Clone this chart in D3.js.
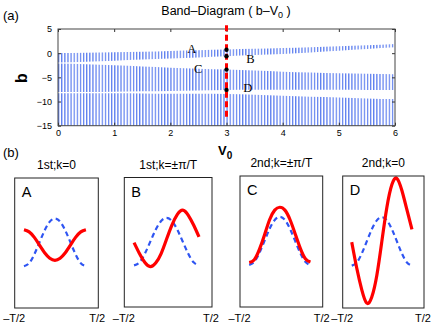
<!DOCTYPE html>
<html>
<head>
<meta charset="utf-8">
<script src="https://cdn.jsdelivr.net/npm/d3@7"></script>
<style>
  body { margin: 0; background: #fff; }
  svg { display: block; font-family: "Liberation Sans", Arial, sans-serif; }
</style>
</head>
<body>
<div id="vis"></div>
<script>
const vGrid = [0, 0.5, 1, 1.5, 2, 2.5, 3, 3.5, 4, 4.5, 5, 5.5, 6];
const band1Top = [0.05, 0.1, 0.2, 0.3, 0.45, 0.6, 0.75, 0.9, 1.05, 1.25, 1.45, 1.65, 1.9];
const band1Bot = [-1.95, -1.75, -1.55, -1.3, -1.1, -0.9, -0.65, -0.4, -0.15, 0.15, 0.5, 0.85, 1.2];
const band2Top = [-2.15, -2.3, -2.5, -2.75, -3.0, -3.2, -3.4, -3.6, -3.85, -4.0, -4.15, -4.25, -4.35];
const band2Bot = [-8.05, -8.05, -8.0, -7.9, -7.8, -7.7, -7.6, -7.55, -7.55, -7.55, -7.55, -7.6, -7.6];
const band3Top = [-8.3, -8.3, -8.3, -8.35, -8.4, -8.4, -8.45, -8.6, -8.8, -9.0, -9.15, -9.35, -9.5];
const band3Bot = [-15, -15, -15, -15, -15, -15, -15, -15, -15, -15, -15, -15, -15];

const markV = 3;
const markRange = [-13.4, 5.8];
const markB = [0.7, -0.65, -3.4, -7.6];
const markLabels = [
  {text: "A", v: 2.3, b: 0.05},
  {text: "B", v: 3.35, b: -2.0},
  {text: "C", v: 2.42, b: -4.05},
  {text: "D", v: 3.3, b: -8.1}
];
const xTicks = [0, 1, 2, 3, 4, 5, 6];
const yTicks = [5, 0, -5, -10, -15];

// mode profiles of panel (b), over one period -T/2..T/2
const tGrid = [-0.5, -0.417, -0.333, -0.25, -0.167, -0.083, 0, 0.083, 0.167, 0.25, 0.333, 0.417, 0.5];
const potential = [-1, -0.87, -0.5, 0, 0.5, 0.87, 1, 0.87, 0.5, 0, -0.5, -0.87, -1];
const modeA = [0.53, 0.44, 0.21, -0.11, -0.43, -0.66, -0.75, -0.66, -0.43, -0.11, 0.21, 0.44, 0.53];
const modeB = [-0.04, -0.5, -0.88, -1.05, -0.9, -0.5, 0.1, 0.7, 1.15, 1.33, 1.12, 0.7, 0.2];
const modeC = [-0.9, -0.78, -0.35, 0.25, 0.88, 1.28, 1.4, 1.28, 0.88, 0.3, -0.3, -0.74, -0.88];
const modeD = [-0.03, -1.1, -2.0, -2.55, -2.3, -1.4, 0.0, 1.4, 2.35, 2.6, 2.1, 1.3, 0.5];
const panelTitles = ["1st;k=0", "1st;k=\u00b1\u03c0/T", "2nd;k=\u00b1\u03c0/T", "2nd;k=0"];
const panelLetters = ["A", "B", "C", "D"];
const panelModes = [modeA, modeB, modeC, modeD];
const panelTickLabels = ["\u2013T/2", "T/2"];

const svg = d3.select("#vis").append("svg")
  .attr("width", 436).attr("height", 328);

// ---------- panel (a) ----------
const x = d3.scaleLinear().domain([0, 6]).range([58, 395]);
const y = d3.scaleLinear().domain([-15, 5]).range([125.7, 29]);

const defs = svg.append("defs");
const pat = defs.append("pattern")
  .attr("id", "hatch")
  .attr("patternUnits", "userSpaceOnUse")
  .attr("x", 58).attr("y", 0)
  .attr("width", 3.12).attr("height", 20);
pat.append("rect").attr("x", 0).attr("y", 0)
  .attr("width", 1.25).attr("height", 20)
  .attr("fill", "#5f80ef");

defs.append("clipPath").attr("id", "plotclip")
  .append("rect").attr("x", 58).attr("y", 29).attr("width", 337).attr("height", 96.7);

const bands = [
  {top: band1Top, bot: band1Bot},
  {top: band2Top, bot: band2Bot},
  {top: band3Top, bot: band3Bot}
];

const area = d3.area()
  .x((d, i) => x(vGrid[i]))
  .y0(d => y(d.b0))
  .y1(d => y(d.b1))
  .curve(d3.curveMonotoneX);

svg.append("g").attr("clip-path", "url(#plotclip)")
  .selectAll("path")
  .data(bands)
  .enter().append("path")
  .attr("d", d => area(d.top.map((t, i) => ({b1: t, b0: d.bot[i]}))))
  .attr("fill", "url(#hatch)");

// axes, inward ticks like matlab
const axB = svg.append("g").attr("transform", "translate(0,125.7)")
  .call(d3.axisBottom(x).tickValues(xTicks).tickSize(-3).tickPadding(4).tickFormat(d3.format("d")));
const axT = svg.append("g").attr("transform", "translate(0,29)")
  .call(d3.axisTop(x).tickValues(xTicks).tickSize(-3).tickFormat(""));
const axL = svg.append("g").attr("transform", "translate(58,0)")
  .call(d3.axisLeft(y).tickValues(yTicks).tickSize(-3).tickPadding(6).tickFormat(d3.format("d")));
const axR = svg.append("g").attr("transform", "translate(395,0)")
  .call(d3.axisRight(y).tickValues(yTicks).tickSize(-3).tickFormat(""));
[axB, axT, axL, axR].forEach(a => {
  a.select(".domain").remove();
  a.selectAll("line").attr("stroke", "#333");
  a.selectAll("text").attr("font-size", 9).attr("fill", "#000").attr("font-family", "Liberation Sans, Arial");
});
svg.append("rect").attr("x", 58).attr("y", 29).attr("width", 337).attr("height", 96.7)
  .attr("fill", "none").attr("stroke", "#444").attr("stroke-width", 1);

// red dashed marker at V0 = 3
svg.append("line")
  .attr("x1", x(markV)).attr("x2", x(markV))
  .attr("y1", y(markRange[1])).attr("y2", y(markRange[0]))
  .attr("stroke", "#ff0000").attr("stroke-width", 3)
  .attr("stroke-dasharray", "6,3.5");

svg.selectAll("circle.mk")
  .data(markB)
  .enter().append("circle").attr("class", "mk")
  .attr("cx", x(markV)).attr("cy", d => y(d)).attr("r", 2.2)
  .attr("fill", "#000");

svg.selectAll("text.ml")
  .data(markLabels)
  .enter().append("text").attr("class", "ml")
  .attr("x", d => x(d.v)).attr("y", d => y(d.b))
  .attr("font-family", "Liberation Serif, Times New Roman, serif")
  .attr("font-size", 12.5)
  .text(d => d.text);

// titles and labels
const title = svg.append("text").attr("x", 226).attr("y", 15)
  .attr("text-anchor", "middle").attr("font-size", 12.5);
title.append("tspan").text("Band\u2013Diagram ( b\u2013V");
title.append("tspan").attr("font-size", 9).attr("dy", 3).text("0");
title.append("tspan").attr("dy", -3).text(" )");

svg.append("text").attr("x", 3).attr("y", 20).attr("font-size", 13).text("(a)");

svg.append("text")
  .attr("transform", "translate(27,78) rotate(-90)")
  .attr("text-anchor", "middle")
  .attr("font-size", 16).attr("font-weight", "bold")
  .text("b");

const vlab = svg.append("text").attr("x", 218).attr("y", 155)
  .attr("font-size", 13).attr("font-weight", "bold");
vlab.append("tspan").text("V");
vlab.append("tspan").attr("font-size", 10).attr("dy", 4).text("0");

svg.append("text").attr("x", 3).attr("y", 157).attr("font-size", 13).text("(b)");

// ---------- panel (b) ----------
const boxes = [
  {x0: 14.7, x1: 98.3, y0: 178, y1: 308},
  {x0: 124.3, x1: 212, y0: 177.5, y1: 307},
  {x0: 240, x1: 322.7, y0: 176, y1: 307},
  {x0: 342.7, x1: 424, y0: 176, y1: 308}
];

boxes.forEach((bx, i) => {
  const px = d3.scaleLinear().domain([-0.65, 0.7]).range([bx.x0, bx.x1]);
  const py = d3.scaleLinear().domain([-2.75, 2.7]).range([bx.y1, bx.y0]);
  const g = svg.append("g");

  const line = d3.line()
    .x((d, j) => px(tGrid[j]))
    .y(d => py(d))
    .curve(d3.curveNatural);

  g.append("path").attr("d", line(potential))
    .attr("fill", "none").attr("stroke", "#2f55f2")
    .attr("stroke-width", 2.2).attr("stroke-dasharray", "5,3.5");

  g.append("path").attr("d", line(panelModes[i]))
    .attr("fill", "none").attr("stroke", "#ff0000")
    .attr("stroke-width", 3.2).attr("stroke-linecap", "butt");

  g.append("rect").attr("x", bx.x0).attr("y", bx.y0)
    .attr("width", bx.x1 - bx.x0).attr("height", bx.y1 - bx.y0)
    .attr("fill", "none").attr("stroke", "#222").attr("stroke-width", 1);

  g.append("text").attr("x", bx.x0 + 7).attr("y", bx.y0 + 19)
    .attr("font-size", 14.5).text(panelLetters[i]);

  g.append("text").attr("x", (bx.x0 + bx.x1) / 2).attr("y", bx.y0 - 9)
    .attr("text-anchor", "middle").attr("font-size", 12).text(panelTitles[i]);

  g.selectAll("text.tk")
    .data(panelTickLabels)
    .enter().append("text").attr("class", "tk")
    .attr("x", (d, j) => j === 0 ? px.range()[0] - 0.5 : px.range()[1] - 1)
    .attr("y", 322)
    .attr("text-anchor", "middle")
    .attr("font-size", 11)
    .text(d => d);
});
</script>
</body>
</html>
